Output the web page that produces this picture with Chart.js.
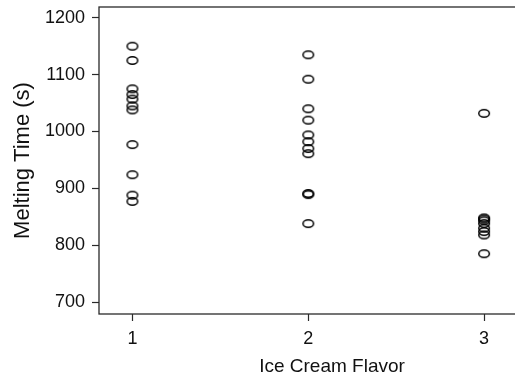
<!DOCTYPE html>
<html>
<head>
<meta charset="utf-8">
<script src="https://cdn.jsdelivr.net/npm/chart.js@4/dist/chart.umd.min.js"></script>
<style>
  html, body { margin: 0; padding: 0; background: #ffffff; overflow: hidden; width: 515px; height: 380px; }
  canvas { display: block; }
</style>
</head>
<body>
<!-- the plotting frame continues past the right edge of the page -->
<canvas id="chart" width="572" height="380"></canvas>
<script>
// Melting times (seconds) for each ice cream flavor
const flavors = [1, 2, 3];
const flavor1Times = [1150, 1125, 1075, 1065, 1057, 1045, 1038, 977, 924, 888, 877];
const flavor2Times = [1135, 1092, 1040, 1020, 994, 982, 970, 961, 891, 889, 838];
const flavor3Times = [1032, 848, 846, 843, 838, 830, 824, 818, 785];
const yTicks = [700, 800, 900, 1000, 1100, 1200];

const groups = [flavor1Times, flavor2Times, flavor3Times];
const points = [];
groups.forEach((times, i) => {
  times.forEach(t => points.push({ x: flavors[i], y: t }));
});

// Open oval marker
function ringMarker() {
  const c = document.createElement('canvas');
  c.width = 14; c.height = 11;
  const g = c.getContext('2d');
  g.strokeStyle = '#000000';
  g.lineWidth = 1.5;
  g.beginPath();
  g.ellipse(7, 5.5, 5.3, 3.7, 0, 0, Math.PI * 2);
  g.stroke();
  return c;
}

// Frame around the plotting region
const frame = {
  id: 'frame',
  afterDatasetsDraw(chart) {
    const { ctx, chartArea: a } = chart;
    ctx.save();
    ctx.strokeStyle = '#2a2a2a';
    ctx.lineWidth = 1.3;
    ctx.strokeRect(a.left, a.top, a.right - a.left, a.bottom - a.top);
    ctx.restore();
  }
};

const textColor = '#111111';
const family = '"Liberation Sans", Arial, Helvetica, sans-serif';

new Chart(document.getElementById('chart'), {
  type: 'scatter',
  data: {
    datasets: [{
      data: points,
      pointStyle: ringMarker(),
      pointRadius: 6,
      pointHoverRadius: 6,
      clip: false
    }]
  },
  options: {
    responsive: false,
    animation: false,
    events: [],
    layout: { padding: { top: 2, right: 1, left: 0, bottom: 0 } },
    plugins: { legend: { display: false }, tooltip: { enabled: false } },
    scales: {
      x: {
        type: 'linear',
        min: 0.81,
        max: 3.46,
        afterBuildTicks: s => { s.ticks = flavors.map(v => ({ value: v })); },
        afterFit: s => { s.height = 66; s.paddingLeft = 0; s.paddingRight = 0; },
        ticks: {
          color: textColor,
          padding: 7,
          maxRotation: 0,
          font: { family, size: 18 },
          callback: v => String(v)
        },
        grid: { drawOnChartArea: false, tickLength: 7, tickColor: '#2a2a2a', tickWidth: 1.2 },
        border: { display: false },
        title: {
          display: true,
          text: 'Ice Cream Flavor',
          color: textColor,
          font: { family, size: 19 },
          padding: { top: 0, bottom: 2 }
        }
      },
      y: {
        type: 'linear',
        min: 679,
        max: 1219,
        afterBuildTicks: s => { s.ticks = yTicks.map(v => ({ value: v })); },
        afterFit: s => { s.width = 99; s.paddingTop = 0; s.paddingBottom = 0; },
        ticks: {
          color: textColor,
          padding: 7,
          font: { family, size: 18 },
          callback: v => String(v)
        },
        grid: { drawOnChartArea: false, tickLength: 7, tickColor: '#2a2a2a', tickWidth: 1.2 },
        border: { display: false },
        title: {
          display: true,
          text: 'Melting Time (s)',
          color: textColor,
          font: { family, size: 22 },
          padding: { top: 10, bottom: 0 }
        }
      }
    }
  },
  plugins: [frame]
});
</script>
</body>
</html>
